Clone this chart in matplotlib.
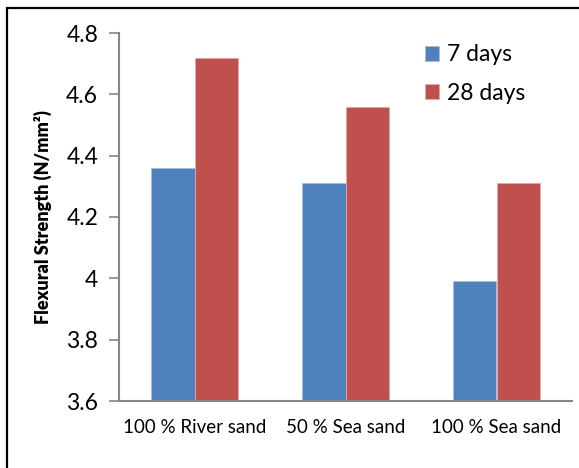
import numpy as np
import matplotlib.pyplot as plt
from matplotlib.patches import Rectangle

categories = ['100 % River sand', '50 % Sea sand', '100 % Sea sand']
series_names = ['7 days', '28 days']
days_7 = [4.36, 4.31, 3.99]
days_28 = [4.72, 4.56, 4.31]
yticks = [3.6, 3.8, 4.0, 4.2, 4.4, 4.6, 4.8]
ytick_labels = ['3.6', '3.8', '4', '4.2', '4.4', '4.6', '4.8']

plt.rcParams['font.family'] = ['Lato', 'DejaVu Sans']

fig = plt.figure(figsize=(5.79, 4.68), dpi=100)
ax = fig.add_axes([119/579, 1 - 401/468, (572 - 119)/579, (401 - 33)/468])

x = np.arange(len(categories))
w = 0.285
ax.bar(x - w/2, days_7, w, color='#4F81BD', edgecolor='#A7C0DE', linewidth=0.6,
       label=series_names[0])
ax.bar(x + w/2, days_28, w, color='#C0504D', edgecolor='#DFA8A6', linewidth=0.6,
       label=series_names[1])

ax.set_ylim(3.6, 4.8)
ax.set_xlim(-0.5, 2.5)
ax.set_yticks(yticks)
ax.set_yticklabels(ytick_labels, fontsize=16.5)
ax.set_xticks(x)
ax.set_xticklabels(categories, fontsize=13.5)
ax.tick_params(axis='x', length=0, pad=13)
ax.tick_params(axis='y', length=7, width=1.2, color='#868686', pad=8)

for s in ['top', 'right']:
    ax.spines[s].set_visible(False)
for s in ['left', 'bottom']:
    ax.spines[s].set_color('#868686')
    ax.spines[s].set_linewidth(1.5)

ax.set_ylabel('Flexural Strength (N/mm²)', fontsize=13, fontweight='heavy', labelpad=10)

leg = ax.legend(loc='upper left', bbox_to_anchor=(0.63, 1.025), frameon=False,
                fontsize=16.5, handlelength=0.6, handleheight=0.6,
                handletextpad=0.35, labelspacing=0.75)

# outer border of the figure
fig.patches.append(Rectangle((7/579, -0.1), 2, 1 - 8/468 + 0.1, transform=fig.transFigure,
                             fill=False, edgecolor='black', linewidth=1.6))

fig.savefig('out.png', dpi=100)
